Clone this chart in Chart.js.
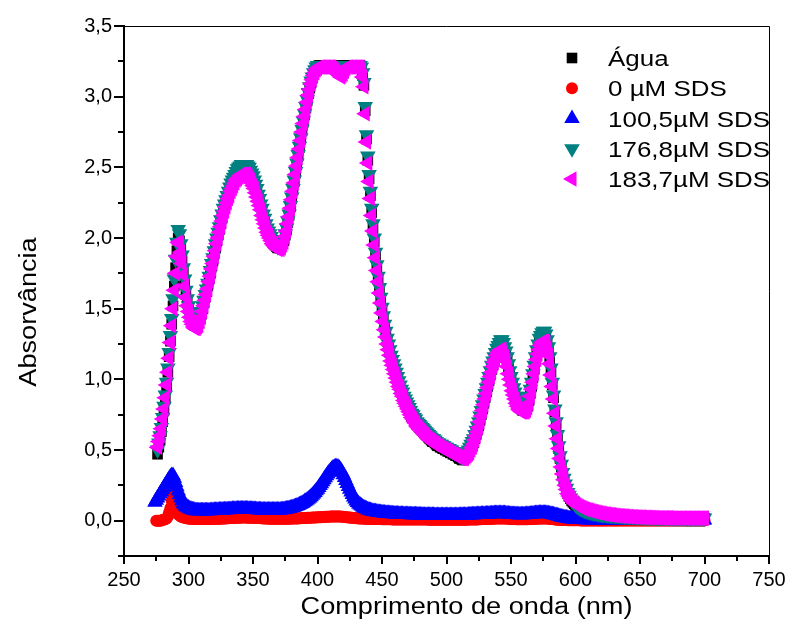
<!DOCTYPE html>
<html>
<head>
<meta charset="utf-8">
<title>Absorvância</title>
<script src="https://cdn.jsdelivr.net/npm/chart.js@4.4.1/dist/chart.umd.min.js"></script>
<style>
  html, body { margin: 0; padding: 0; background: #fff; }
  canvas { display: block; }
</style>
</head>
<body>
<canvas id="chart" width="797" height="626"></canvas>
<script>
// wavelength grid (nm), one row = 10 nm
const wavelengths = [
  274,275,276,277,278,279,280,281,282,283,
  284,285,286,287,288,289,290,291,292,293,
  294,295,296,297,298,299,300,301,302,303,
  304,305,306,307,308,309,310,311,312,313,
  314,315,316,317,318,319,320,321,322,323,
  324,325,326,327,328,329,330,331,332,333,
  334,335,336,337,338,339,340,341,342,343,
  344,345,346,347,348,349,350,351,352,353,
  354,355,356,357,358,359,360,361,362,363,
  364,365,366,367,368,369,370,371,372,373,
  374,375,376,377,378,379,380,381,382,383,
  384,385,386,387,388,389,390,391,392,393,
  394,395,396,397,398,399,400,401,402,403,
  404,405,406,407,408,409,410,411,412,413,
  414,415,416,417,418,419,420,421,422,423,
  424,425,426,427,428,429,430,431,432,433,
  434,435,436,437,438,439,440,441,442,443,
  444,445,446,447,448,449,450,451,452,453,
  454,455,456,457,458,459,460,461,462,463,
  464,465,466,467,468,469,470,471,472,473,
  474,475,476,477,478,479,480,481,482,483,
  484,485,486,487,488,489,490,491,492,493,
  494,495,496,497,498,499,500,501,502,503,
  504,505,506,507,508,509,510,511,512,513,
  514,515,516,517,518,519,520,521,522,523,
  524,525,526,527,528,529,530,531,532,533,
  534,535,536,537,538,539,540,541,542,543,
  544,545,546,547,548,549,550,551,552,553,
  554,555,556,557,558,559,560,561,562,563,
  564,565,566,567,568,569,570,571,572,573,
  574,575,576,577,578,579,580,581,582,583,
  584,585,586,587,588,589,590,591,592,593,
  594,595,596,597,598,599,600,601,602,603,
  604,605,606,607,608,609,610,611,612,613,
  614,615,616,617,618,619,620,621,622,623,
  624,625,626,627,628,629,630,631,632,633,
  634,635,636,637,638,639,640,641,642,643,
  644,645,646,647,648,649,650,651,652,653,
  654,655,656,657,658,659,660,661,662,663,
  664,665,666,667,668,669,670,671,672,673,
  674,675,676,677,678,679,680,681,682,683,
  684,685,686,687,688,689,690,691,692,693,
  694,695,696,697,698,699,700
];

// Água
const agua = [
  null,null,0.47,0.52,0.57,0.63,0.70,0.78,0.86,0.95,
  1.05,1.16,1.27,1.39,1.52,1.66,1.79,1.91,2.00,1.98,
  1.92,1.84,1.76,1.68,1.60,1.54,1.50,1.46,1.43,1.41,
  1.39,1.38,1.38,1.39,1.40,1.43,1.46,1.50,1.54,1.58,
  1.62,1.66,1.71,1.75,1.80,1.84,1.89,1.93,1.98,2.02,
  2.06,2.10,2.14,2.18,2.21,2.24,2.27,2.30,2.33,2.36,
  2.38,2.40,2.42,2.44,2.45,2.46,2.47,2.48,2.48,2.48,
  2.48,2.48,2.47,2.46,2.44,2.42,2.40,2.38,2.35,2.32,
  2.29,2.26,2.22,2.19,2.15,2.12,2.09,2.06,2.03,2.01,
  1.99,1.97,1.96,1.95,1.94,1.93,1.93,1.93,1.94,1.96,
  1.98,2.02,2.06,2.11,2.16,2.22,2.28,2.34,2.40,2.46,
  2.52,2.58,2.64,2.70,2.76,2.82,2.87,2.92,2.97,3.02,
  3.06,3.10,3.13,3.16,3.18,3.20,3.21,3.22,3.22,3.22,
  3.22,3.22,3.22,3.22,3.22,3.22,3.22,3.22,3.22,3.22,
  3.22,3.22,3.22,3.22,3.22,3.22,3.22,3.22,3.22,3.22,
  3.22,3.22,3.22,3.22,3.22,3.22,3.22,3.22,3.22,3.22,
  3.20,3.15,3.08,2.90,2.70,2.55,2.42,2.30,2.18,2.07,
  1.97,1.88,1.79,1.71,1.63,1.56,1.49,1.43,1.37,1.32,
  1.27,1.23,1.19,1.15,1.12,1.09,1.06,1.03,1.00,0.97,
  0.94,0.91,0.89,0.86,0.84,0.82,0.80,0.78,0.76,0.74,
  0.73,0.71,0.70,0.68,0.67,0.66,0.65,0.64,0.63,0.62,
  0.61,0.60,0.59,0.58,0.57,0.56,0.56,0.55,0.54,0.53,
  0.53,0.52,0.52,0.51,0.51,0.50,0.50,0.49,0.49,0.48,
  0.48,0.47,0.47,0.46,0.46,0.45,0.44,0.44,0.43,0.43,
  0.44,0.45,0.46,0.47,0.49,0.51,0.53,0.55,0.58,0.61,
  0.64,0.67,0.71,0.75,0.79,0.83,0.87,0.91,0.95,0.99,
  1.03,1.07,1.10,1.13,1.16,1.19,1.21,1.23,1.25,1.25,
  1.23,1.20,1.17,1.13,1.08,1.03,0.99,0.95,0.91,0.88,
  0.85,0.83,0.81,0.80,0.79,0.78,0.78,0.78,0.79,0.81,
  0.85,0.90,0.95,1.01,1.07,1.13,1.18,1.22,1.26,1.28,
  1.30,1.31,1.31,1.29,1.25,1.20,1.13,1.05,0.96,0.87,
  0.77,0.68,0.59,0.51,0.44,0.38,0.33,0.29,0.25,0.22,
  0.19,0.17,0.155,0.14,0.13,0.12,0.11,0.10,0.095,0.09,
  0.085,0.081,0.077,0.073,0.070,0.067,0.065,0.062,0.060,0.058,
  0.056,0.054,0.052,0.050,0.049,0.047,0.046,0.045,0.044,0.043,
  0.042,0.041,0.040,0.039,0.039,0.038,0.037,0.036,0.036,0.035,
  0.035,0.034,0.033,0.033,0.032,0.032,0.031,0.031,0.030,0.030,
  0.029,0.029,0.029,0.028,0.028,0.027,0.027,0.027,0.026,0.026,
  0.026,0.025,0.025,0.025,0.025,0.024,0.024,0.024,0.024,0.023,
  0.023,0.023,0.023,0.023,0.022,0.022,0.022,0.022,0.022,0.021,
  0.021,0.021,0.021,0.021,0.021,0.020,0.020,0.020,0.020,0.020,
  0.020,0.020,0.019,0.019,0.019,0.019,0.019,0.019,0.019,0.018,
  0.018,0.018,0.018,0.018,0.018,0.018,0.018
];

// 0 µM SDS
const sds0 = [
  null,0.000,0.000,0.000,0.000,0.002,0.005,0.008,0.010,0.015,
  0.030,0.060,0.090,0.140,0.170,0.140,0.090,0.060,0.045,0.037,
  0.030,0.026,0.022,0.020,0.018,0.016,0.015,0.014,0.013,0.012,
  0.012,0.012,0.011,0.011,0.011,0.011,0.011,0.011,0.011,0.011,
  0.011,0.011,0.012,0.012,0.012,0.012,0.013,0.013,0.013,0.013,
  0.014,0.014,0.015,0.015,0.016,0.016,0.017,0.017,0.018,0.018,
  0.019,0.019,0.020,0.020,0.021,0.021,0.021,0.022,0.022,0.022,
  0.022,0.022,0.021,0.021,0.021,0.020,0.020,0.020,0.019,0.019,
  0.018,0.018,0.017,0.017,0.016,0.016,0.015,0.015,0.014,0.014,
  0.014,0.014,0.013,0.013,0.013,0.013,0.013,0.013,0.013,0.013,
  0.013,0.013,0.014,0.014,0.014,0.014,0.015,0.015,0.015,0.016,
  0.016,0.016,0.017,0.017,0.018,0.018,0.019,0.019,0.020,0.020,
  0.021,0.021,0.022,0.022,0.023,0.023,0.024,0.024,0.025,0.025,
  0.026,0.026,0.027,0.027,0.028,0.028,0.029,0.029,0.030,0.030,
  0.030,0.030,0.030,0.029,0.029,0.028,0.027,0.026,0.025,0.024,
  0.023,0.022,0.021,0.020,0.019,0.018,0.017,0.017,0.016,0.016,
  0.015,0.015,0.014,0.014,0.013,0.013,0.013,0.012,0.012,0.012,
  0.012,0.011,0.011,0.011,0.011,0.011,0.010,0.010,0.010,0.010,
  0.010,0.010,0.010,0.010,0.009,0.009,0.009,0.009,0.009,0.009,
  0.009,0.009,0.008,0.008,0.008,0.008,0.008,0.008,0.008,0.008,
  0.008,0.008,0.008,0.008,0.008,0.008,0.008,0.008,0.008,0.008,
  0.008,0.008,0.007,0.007,0.007,0.007,0.007,0.007,0.007,0.007,
  0.007,0.007,0.007,0.007,0.007,0.007,0.007,0.007,0.007,0.007,
  0.007,0.007,0.007,0.007,0.007,0.007,0.007,0.007,0.007,0.007,
  0.007,0.007,0.007,0.008,0.008,0.008,0.008,0.009,0.009,0.009,
  0.009,0.010,0.010,0.010,0.011,0.011,0.011,0.012,0.012,0.012,
  0.013,0.013,0.014,0.014,0.015,0.015,0.016,0.016,0.016,0.016,
  0.016,0.015,0.015,0.014,0.014,0.013,0.012,0.012,0.011,0.011,
  0.010,0.010,0.010,0.010,0.010,0.010,0.010,0.010,0.010,0.010,
  0.011,0.011,0.012,0.012,0.013,0.013,0.014,0.014,0.015,0.015,
  0.016,0.016,0.016,0.015,0.015,0.014,0.013,0.012,0.011,0.010,
  0.009,0.008,0.007,0.006,0.006,0.005,0.005,0.004,0.004,0.004,
  0.003,0.003,0.003,0.003,0.003,0.003,0.003,0.003,0.003,0.003,
  0.002,0.002,0.002,0.002,0.002,0.002,0.002,0.002,0.002,0.002,
  0.002,0.002,0.002,0.002,0.002,0.002,0.002,0.002,0.002,0.002,
  0.002,0.002,0.002,0.002,0.002,0.002,0.002,0.002,0.002,0.002,
  0.002,0.002,0.002,0.002,0.002,0.002,0.002,0.002,0.002,0.002,
  0.002,0.002,0.002,0.002,0.002,0.002,0.002,0.002,0.002,0.002,
  0.002,0.002,0.002,0.002,0.002,0.002,0.002,0.002,0.002,0.002,
  0.002,0.002,0.002,0.002,0.002,0.002,0.002,0.002,0.002,0.002,
  0.002,0.002,0.002,0.002,0.002,0.002,0.002,0.002,0.002,0.002,
  0.002,0.002,0.002,0.002,0.002,0.002,0.002,0.002,0.002,0.002,
  0.002,0.002,0.002,0.002,0.002,0.002,0.002
];

// 100,5 µM SDS
const sds100 = [
  0.130,0.145,0.160,0.175,0.190,0.205,0.220,0.235,0.250,0.265,
  0.280,0.295,0.310,0.320,0.320,0.300,0.270,0.240,0.210,0.185,
  0.160,0.140,0.120,0.110,0.100,0.095,0.090,0.085,0.080,0.078,
  0.075,0.073,0.071,0.070,0.070,0.070,0.070,0.070,0.070,0.070,
  0.070,0.070,0.071,0.071,0.072,0.072,0.073,0.073,0.074,0.074,
  0.075,0.075,0.076,0.076,0.077,0.077,0.078,0.078,0.079,0.079,
  0.080,0.080,0.081,0.081,0.082,0.082,0.082,0.082,0.082,0.082,
  0.082,0.082,0.082,0.081,0.081,0.080,0.080,0.079,0.079,0.078,
  0.078,0.077,0.077,0.076,0.076,0.075,0.075,0.075,0.075,0.075,
  0.075,0.075,0.075,0.075,0.075,0.075,0.076,0.076,0.077,0.078,
  0.079,0.080,0.082,0.084,0.086,0.088,0.091,0.094,0.097,0.100,
  0.104,0.108,0.112,0.117,0.122,0.127,0.133,0.139,0.146,0.153,
  0.161,0.170,0.179,0.189,0.200,0.211,0.222,0.235,0.248,0.262,
  0.276,0.290,0.304,0.318,0.331,0.343,0.354,0.364,0.372,0.378,
  0.382,0.382,0.378,0.370,0.358,0.343,0.325,0.305,0.284,0.263,
  0.242,0.222,0.203,0.185,0.168,0.153,0.140,0.128,0.118,0.110,
  0.103,0.097,0.091,0.086,0.082,0.078,0.075,0.072,0.069,0.067,
  0.065,0.063,0.061,0.060,0.058,0.057,0.056,0.055,0.054,0.053,
  0.052,0.051,0.050,0.050,0.049,0.048,0.048,0.047,0.047,0.046,
  0.046,0.045,0.045,0.044,0.044,0.044,0.043,0.043,0.042,0.042,
  0.042,0.041,0.041,0.041,0.040,0.040,0.040,0.040,0.039,0.039,
  0.039,0.039,0.038,0.038,0.038,0.038,0.038,0.037,0.037,0.037,
  0.037,0.037,0.037,0.037,0.037,0.037,0.037,0.037,0.037,0.037,
  0.037,0.037,0.037,0.037,0.037,0.037,0.037,0.038,0.038,0.038,
  0.038,0.039,0.039,0.040,0.040,0.041,0.041,0.042,0.042,0.043,
  0.043,0.044,0.044,0.045,0.045,0.046,0.046,0.047,0.047,0.048,
  0.048,0.049,0.049,0.050,0.050,0.051,0.051,0.051,0.051,0.051,
  0.050,0.050,0.049,0.048,0.047,0.046,0.045,0.044,0.044,0.043,
  0.043,0.042,0.042,0.042,0.042,0.042,0.042,0.043,0.043,0.044,
  0.045,0.046,0.047,0.048,0.049,0.050,0.051,0.052,0.052,0.053,
  0.053,0.053,0.053,0.052,0.051,0.049,0.048,0.046,0.044,0.041,
  0.039,0.036,0.034,0.031,0.029,0.026,0.024,0.022,0.020,0.018,
  0.017,0.015,0.014,0.013,0.012,0.011,0.010,0.010,0.009,0.009,
  0.008,0.008,0.008,0.007,0.007,0.007,0.007,0.006,0.006,0.006,
  0.006,0.006,0.006,0.006,0.006,0.006,0.006,0.006,0.006,0.006,
  0.005,0.005,0.005,0.005,0.005,0.005,0.005,0.005,0.005,0.005,
  0.005,0.005,0.005,0.005,0.005,0.005,0.005,0.005,0.005,0.005,
  0.005,0.005,0.005,0.005,0.005,0.005,0.005,0.005,0.005,0.005,
  0.005,0.005,0.005,0.005,0.005,0.005,0.005,0.005,0.005,0.005,
  0.005,0.005,0.005,0.005,0.005,0.005,0.005,0.005,0.005,0.005,
  0.005,0.005,0.005,0.005,0.005,0.005,0.005,0.005,0.005,0.005,
  0.005,0.005,0.005,0.005,0.005,0.005,0.005,0.005,0.005,0.005,
  0.005,0.005,0.005,0.005,0.005,0.005,0.005
];

// 176,8 µM SDS
const sds176 = [
  null,null,0.50,0.55,0.60,0.66,0.73,0.81,0.89,0.98,
  1.08,1.19,1.31,1.43,1.57,1.71,1.85,1.97,2.06,2.03,
  1.96,1.88,1.79,1.71,1.63,1.57,1.52,1.48,1.45,1.43,
  1.41,1.40,1.40,1.41,1.42,1.45,1.48,1.52,1.56,1.60,
  1.64,1.68,1.73,1.77,1.82,1.86,1.91,1.96,2.00,2.04,
  2.08,2.13,2.17,2.21,2.24,2.27,2.30,2.33,2.36,2.39,
  2.41,2.43,2.45,2.47,2.49,2.50,2.51,2.52,2.52,2.52,
  2.52,2.52,2.51,2.50,2.48,2.46,2.44,2.41,2.38,2.35,
  2.31,2.28,2.24,2.21,2.17,2.14,2.10,2.07,2.05,2.03,
  2.01,1.99,1.97,1.96,1.95,1.94,1.94,1.94,1.95,1.97,
  1.99,2.03,2.07,2.12,2.17,2.23,2.29,2.35,2.41,2.47,
  2.53,2.59,2.65,2.71,2.77,2.83,2.88,2.93,2.98,3.03,
  3.07,3.11,3.14,3.17,3.19,3.21,3.22,3.22,3.22,3.22,
  3.22,3.22,3.22,3.22,3.22,3.22,3.22,3.22,3.22,3.22,
  3.22,3.22,3.22,3.22,3.22,3.22,3.22,3.22,3.22,3.22,
  3.22,3.22,3.22,3.22,3.22,3.22,3.22,3.22,3.22,3.22,
  3.21,3.17,3.10,2.93,2.73,2.58,2.45,2.33,2.21,2.10,
  2.00,1.90,1.81,1.73,1.65,1.58,1.51,1.45,1.39,1.34,
  1.29,1.25,1.21,1.17,1.14,1.11,1.08,1.05,1.02,0.99,
  0.96,0.93,0.91,0.88,0.86,0.84,0.82,0.80,0.78,0.76,
  0.75,0.73,0.72,0.70,0.69,0.68,0.67,0.66,0.65,0.64,
  0.63,0.62,0.61,0.60,0.59,0.58,0.58,0.57,0.56,0.55,
  0.55,0.54,0.54,0.53,0.53,0.52,0.52,0.51,0.51,0.50,
  0.50,0.49,0.49,0.48,0.48,0.47,0.46,0.46,0.45,0.45,
  0.46,0.47,0.48,0.50,0.52,0.54,0.56,0.58,0.61,0.64,
  0.67,0.70,0.74,0.78,0.82,0.86,0.90,0.94,0.98,1.02,
  1.06,1.10,1.13,1.16,1.19,1.22,1.24,1.26,1.28,1.28,
  1.26,1.23,1.20,1.16,1.11,1.06,1.02,0.98,0.94,0.91,
  0.88,0.86,0.84,0.83,0.82,0.81,0.81,0.81,0.82,0.84,
  0.88,0.93,0.98,1.04,1.10,1.16,1.21,1.25,1.29,1.31,
  1.33,1.34,1.34,1.32,1.28,1.23,1.16,1.08,0.98,0.89,
  0.79,0.70,0.61,0.53,0.46,0.40,0.34,0.30,0.26,0.23,
  0.20,0.18,0.16,0.145,0.135,0.125,0.115,0.105,0.098,0.092,
  0.087,0.082,0.078,0.074,0.071,0.068,0.065,0.063,0.060,0.058,
  0.056,0.054,0.052,0.050,0.049,0.047,0.046,0.045,0.044,0.043,
  0.042,0.041,0.040,0.039,0.039,0.038,0.037,0.036,0.036,0.035,
  0.035,0.034,0.033,0.033,0.032,0.032,0.031,0.031,0.030,0.030,
  0.029,0.029,0.029,0.028,0.028,0.027,0.027,0.027,0.026,0.026,
  0.026,0.025,0.025,0.025,0.025,0.024,0.024,0.024,0.024,0.023,
  0.023,0.023,0.023,0.023,0.022,0.022,0.022,0.022,0.022,0.021,
  0.021,0.021,0.021,0.021,0.021,0.020,0.020,0.020,0.020,0.020,
  0.020,0.020,0.019,0.019,0.019,0.019,0.019,0.019,0.019,0.018,
  0.018,0.018,0.018,0.018,0.018,0.018,0.018
];

// 183,7 µM SDS
const sds183 = [
  null,null,0.52,0.56,0.60,0.65,0.72,0.79,0.87,0.96,
  1.05,1.15,1.26,1.38,1.50,1.63,1.75,1.87,1.97,1.96,
  1.90,1.82,1.74,1.66,1.58,1.52,1.48,1.44,1.41,1.39,
  1.37,1.36,1.36,1.37,1.38,1.41,1.44,1.48,1.52,1.56,
  1.60,1.64,1.69,1.73,1.78,1.82,1.87,1.91,1.96,2.00,
  2.04,2.08,2.12,2.16,2.19,2.22,2.25,2.28,2.30,2.33,
  2.35,2.37,2.39,2.41,2.42,2.43,2.44,2.45,2.45,2.45,
  2.45,2.45,2.44,2.43,2.41,2.39,2.37,2.35,2.32,2.29,
  2.26,2.23,2.20,2.16,2.13,2.10,2.07,2.04,2.02,2.00,
  1.98,1.96,1.95,1.94,1.93,1.92,1.92,1.92,1.93,1.95,
  1.97,2.01,2.05,2.10,2.15,2.21,2.27,2.33,2.39,2.45,
  2.51,2.57,2.63,2.69,2.75,2.81,2.86,2.91,2.96,3.01,
  3.05,3.09,3.12,3.15,3.17,3.19,3.20,3.21,3.21,3.21,
  3.21,3.21,3.21,3.21,3.21,3.21,3.21,3.21,3.20,3.19,
  3.18,3.17,3.16,3.15,3.14,3.15,3.16,3.18,3.20,3.21,
  3.21,3.21,3.21,3.21,3.21,3.21,3.21,3.21,3.21,3.21,
  3.19,3.14,3.07,2.88,2.68,2.53,2.40,2.28,2.16,2.05,
  1.95,1.86,1.77,1.69,1.61,1.54,1.47,1.41,1.35,1.30,
  1.25,1.21,1.17,1.13,1.10,1.07,1.04,1.01,0.98,0.95,
  0.93,0.90,0.88,0.85,0.83,0.81,0.79,0.77,0.75,0.73,
  0.72,0.70,0.69,0.67,0.66,0.65,0.64,0.63,0.62,0.61,
  0.60,0.59,0.58,0.57,0.57,0.56,0.55,0.55,0.54,0.53,
  0.53,0.52,0.52,0.51,0.51,0.50,0.50,0.49,0.49,0.48,
  0.48,0.47,0.47,0.46,0.46,0.45,0.45,0.44,0.44,0.44,
  0.44,0.45,0.46,0.47,0.48,0.50,0.52,0.54,0.57,0.60,
  0.63,0.66,0.70,0.74,0.78,0.82,0.86,0.90,0.94,0.98,
  1.02,1.05,1.09,1.12,1.14,1.17,1.19,1.20,1.21,1.21,
  1.19,1.16,1.13,1.09,1.04,1.00,0.96,0.92,0.89,0.86,
  0.83,0.81,0.79,0.78,0.77,0.77,0.77,0.77,0.78,0.80,
  0.83,0.88,0.93,0.98,1.04,1.09,1.14,1.18,1.21,1.24,
  1.26,1.27,1.27,1.26,1.22,1.17,1.11,1.03,0.95,0.86,
  0.76,0.67,0.58,0.51,0.44,0.38,0.33,0.29,0.25,0.22,
  0.19,0.175,0.16,0.145,0.135,0.125,0.12,0.11,0.105,0.10,
  0.095,0.091,0.087,0.083,0.080,0.077,0.075,0.072,0.070,0.067,
  0.065,0.062,0.060,0.058,0.056,0.054,0.052,0.050,0.049,0.047,
  0.046,0.044,0.043,0.042,0.041,0.039,0.038,0.037,0.036,0.035,
  0.035,0.034,0.033,0.032,0.031,0.031,0.030,0.029,0.029,0.028,
  0.028,0.027,0.027,0.026,0.026,0.025,0.025,0.025,0.024,0.024,
  0.024,0.023,0.023,0.023,0.022,0.022,0.022,0.022,0.021,0.021,
  0.021,0.021,0.021,0.020,0.020,0.020,0.020,0.020,0.020,0.020,
  0.019,0.019,0.019,0.019,0.019,0.019,0.019,0.019,0.019,0.019,
  0.019,0.019,0.019,0.018,0.018,0.018,0.018,0.018,0.018,0.018,
  0.018,0.018,0.018,0.018,0.018,0.018,0.018
];

const seriesLabels = ['Água', '0 µM SDS', '100,5µM SDS', '176,8µM SDS', '183,7µM SDS'];

// axis ticks
const xTicks = [250, 300, 350, 400, 450, 500, 550, 600, 650, 700, 750];
const xMinorTicks = [275, 325, 375, 425, 475, 525, 575, 625, 675, 725];
const yTicks = [0, 0.5, 1, 1.5, 2, 2.5, 3, 3.5];
const yMinorTicks = [-0.25, 0.25, 0.75, 1.25, 1.75, 2.25, 2.75, 3.25];

const FONT = "'Liberation Sans', Arial, sans-serif";
const TEXT_STRETCH = 1.18; // labels are a bit wider than plain Arial

function points(ys) {
  const out = [];
  wavelengths.forEach((x, i) => {
    if (ys[i] !== null) out.push({ x: x, y: ys[i] });
  });
  return out;
}

// marker style per series
const styles = [
  { color: '#000000', pointStyle: 'rect', radius: 7.5, rotation: 0 },
  { color: '#ff0000', pointStyle: 'circle', radius: 6, rotation: 0 },
  { color: '#0000ff', pointStyle: 'triangle', radius: 9, rotation: 0 },
  { color: '#008080', pointStyle: 'triangle', radius: 9, rotation: 180 },
  { color: '#ff00ff', pointStyle: 'triangle', radius: 9, rotation: -90 }
];
const seriesValues = [agua, sds0, sds100, sds176, sds183];

const datasets = seriesValues.map((vals, i) => ({
  label: seriesLabels[i],
  data: points(vals),
  showLine: false,
  pointStyle: styles[i].pointStyle,
  pointRadius: styles[i].radius,
  pointRotation: styles[i].rotation,
  pointBackgroundColor: styles[i].color,
  pointBorderWidth: 0,
  pointBorderColor: styles[i].color,
  // later series are drawn on top
  order: seriesValues.length - i
}));

function wideText(ctx, text, x, y, align) {
  ctx.save();
  ctx.translate(x, y);
  ctx.scale(TEXT_STRETCH, 1);
  ctx.textAlign = align;
  ctx.fillText(text, 0, 0);
  ctx.restore();
}

const framePlugin = {
  id: 'frame',
  afterDraw(chart) {
    const ctx = chart.ctx;
    const a = chart.chartArea;
    const xs = chart.scales.x, ys = chart.scales.y;
    ctx.save();

    // top and right border
    ctx.strokeStyle = '#000';
    ctx.lineWidth = 1;
    ctx.beginPath();
    ctx.moveTo(a.left, a.top + 0.5);
    ctx.lineTo(a.right + 0.5, a.top + 0.5);
    ctx.lineTo(a.right + 0.5, a.bottom);
    ctx.stroke();

    // minor ticks
    ctx.lineWidth = 2;
    ctx.beginPath();
    xMinorTicks.forEach(v => {
      const px = Math.round(xs.getPixelForValue(v));
      ctx.moveTo(px, a.bottom);
      ctx.lineTo(px, a.bottom + 5);
    });
    yMinorTicks.forEach(v => {
      const py = Math.round(ys.getPixelForValue(v));
      ctx.moveTo(a.left, py);
      ctx.lineTo(a.left - 6, py);
    });
    ctx.stroke();

    // axis titles
    ctx.fillStyle = '#000';
    ctx.font = '23px ' + FONT;
    ctx.textBaseline = 'alphabetic';
    wideText(ctx, 'Comprimento de onda (nm)', (a.left + a.right) / 2 + 20, 614, 'center');
    ctx.save();
    ctx.translate(36, (a.top + a.bottom) / 2 + 21);
    ctx.rotate(-Math.PI / 2);
    wideText(ctx, 'Absorvância', 0, 0, 'center');
    ctx.restore();

    // legend
    ctx.font = '22px ' + FONT;
    seriesLabels.forEach((label, i) => {
      const base = a.top + 40 + i * 30.25;
      const st = styles[i];
      ctx.fillStyle = st.color;
      Chart.helpers.drawPoint(ctx, {
        pointStyle: st.pointStyle,
        radius: st.radius,
        rotation: st.rotation,
        borderWidth: 0
      }, a.left + 448, base - 8);
      ctx.fillStyle = '#000';
      wideText(ctx, label, a.left + 484, base, 'left');
    });
    ctx.restore();
  }
};

new Chart(document.getElementById('chart'), {
  type: 'scatter',
  data: { datasets: datasets },
  options: {
    responsive: false,
    animation: false,
    devicePixelRatio: 1,
    layout: { padding: { top: 26, right: 28, left: 0, bottom: 0 } },
    plugins: {
      legend: { display: false },
      tooltip: { enabled: false }
    },
    scales: {
      x: {
        type: 'linear',
        min: 250,
        max: 750,
        border: { display: true, color: '#000', width: 2 },
        grid: { drawOnChartArea: false, drawTicks: true, tickLength: 8, color: '#000', lineWidth: 2 },
        ticks: {
          color: '#000',
          font: { family: FONT, size: 20 },
          padding: 4,
          maxRotation: 0,
          autoSkip: false
        },
        afterBuildTicks: scale => { scale.ticks = xTicks.map(v => ({ value: v })); },
        afterFit: scale => { scale.height = 70; }
      },
      y: {
        type: 'linear',
        min: -0.25,
        max: 3.5,
        border: { display: true, color: '#000', width: 2 },
        grid: { drawOnChartArea: false, drawTicks: true, tickLength: 10, color: '#000', lineWidth: 2 },
        ticks: {
          color: '#000',
          font: { family: FONT, size: 20 },
          padding: 2,
          autoSkip: false,
          callback: v => v.toFixed(1).replace('.', ',')
        },
        afterBuildTicks: scale => { scale.ticks = yTicks.map(v => ({ value: v })); },
        afterFit: scale => { scale.width = 124; }
      }
    }
  },
  plugins: [framePlugin]
});
</script>
</body>
</html>
